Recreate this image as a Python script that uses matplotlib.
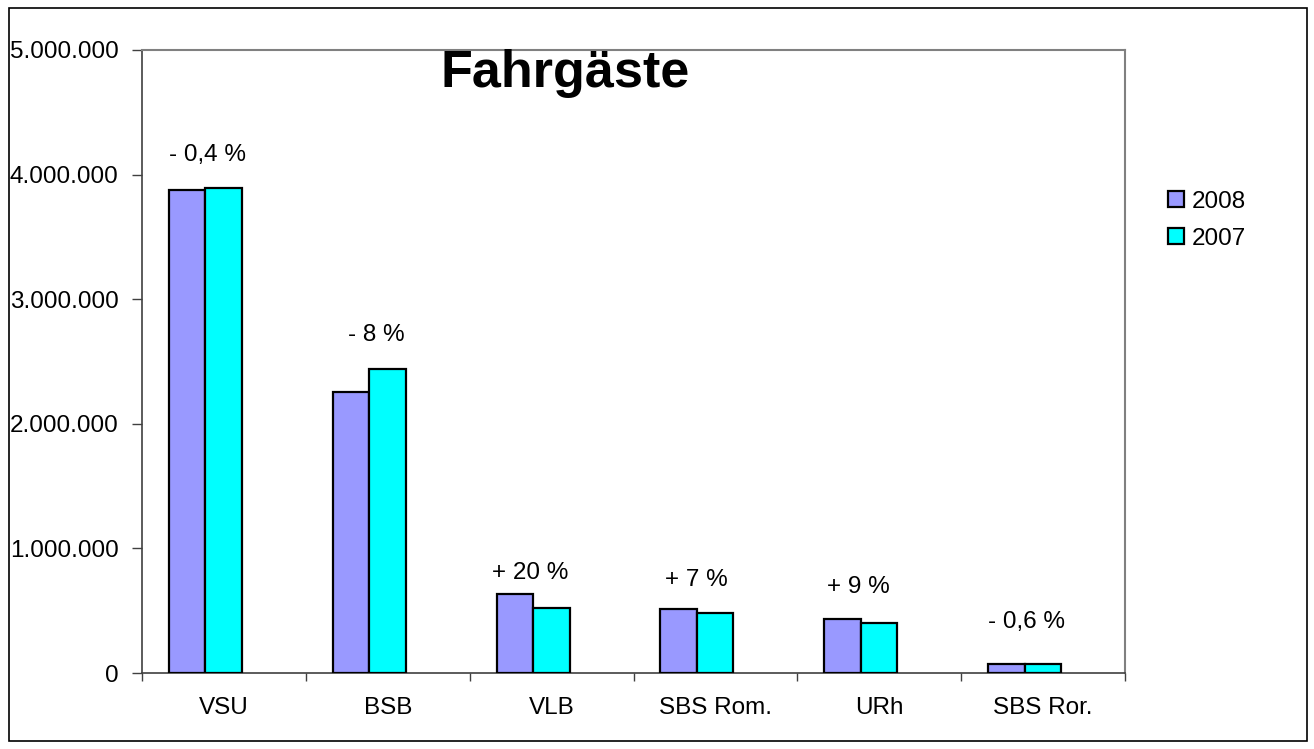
import matplotlib
matplotlib.use("Agg")
import matplotlib.pyplot as plt
import matplotlib.patches as mpatches
from matplotlib.ticker import FuncFormatter, FixedLocator
import numpy as np

plt.rcParams['font.family'] = ['Liberation Sans', 'DejaVu Sans']

# ---- data ----
categories = ["VSU", "BSB", "VLB", "SBS Rom.", "URh", "SBS Ror."]
series_names = ["2008", "2007"]
values_2008 = [3876000, 2255000, 634000, 511000, 431000, 72000]
values_2007 = [3892000, 2440000, 524000, 484000, 399000, 72000]
change_labels = ["- 0,4 %", "- 8 %", "+ 20 %", "+ 7 %", "+ 9 %", "- 0,6 %"]
yticks = [0, 1000000, 2000000, 3000000, 4000000, 5000000]

# ---- layout ----
label_dx = [0.126, 0.153, 0.095, 0.106, 0.098, 0.121]
label_y = [4157000, 2713000, 803000, 746000, 690000, 409000]

W, H = 1314, 749
fig = plt.figure(figsize=(W / 100, H / 100), dpi=100)
ax = fig.add_axes([142 / W, 76 / H, (1125 - 142) / W, 623 / H])

x = np.arange(len(categories))
bw = 0.2225
c2008 = "#9999FF"
c2007 = "#00FFFF"
ax.bar(x - 0.224, values_2008, width=bw, color=c2008, edgecolor="black", linewidth=1.6, label=series_names[0], zorder=3)
ax.bar(x - 0.224 + bw, values_2007, width=bw, color=c2007, edgecolor="black", linewidth=1.6, label=series_names[1], zorder=3)

for i, t in enumerate(change_labels):
    ax.text(x[i] - 0.224 + label_dx[i], label_y[i], t, ha="center", va="center", fontsize=17.5)

ax.set_xlim(-0.5, len(categories) - 0.5)
ax.set_ylim(0, 5000000)
ax.yaxis.set_major_locator(FixedLocator(yticks))
ax.yaxis.set_major_formatter(FuncFormatter(lambda v, p: f"{int(v):,}".replace(",", ".")))
ax.tick_params(axis="y", direction="out", length=7, width=1, pad=10, labelsize=17.5, color="#404040")

ax.set_xticks(x)
ax.set_xticklabels(categories, fontsize=17.5)
ax.tick_params(axis="x", which="major", length=0, pad=17)
ax.set_xticks(np.arange(-0.5, len(categories) + 0.5, 1), minor=True)
ax.tick_params(axis="x", which="minor", direction="out", length=6, width=1, color="#404040")

for s in ["top", "right"]:
    ax.spines[s].set_color("#808080")
    ax.spines[s].set_linewidth(1.5)
for s in ["left", "bottom"]:
    ax.spines[s].set_color("#404040")
    ax.spines[s].set_linewidth(1.2)

fig.text(565 / W, 1 - 74 / H, "Fahrgäste", ha="center", va="center", fontsize=37.5, fontweight="bold")

leg = fig.legend(loc="upper left", bbox_to_anchor=(1158 / W, 1 - 181 / H), frameon=False,
                 fontsize=17.5, handlelength=0.65, handleheight=0.65, handletextpad=0.35,
                 labelspacing=0.62, borderaxespad=0)

fig.patches.append(mpatches.Rectangle((9 / W, 8 / H), (1307 - 9) / W, (741 - 8) / H,
                                      transform=fig.transFigure, fill=False,
                                      edgecolor="black", linewidth=1.2))

fig.savefig("out.png", dpi=100)
